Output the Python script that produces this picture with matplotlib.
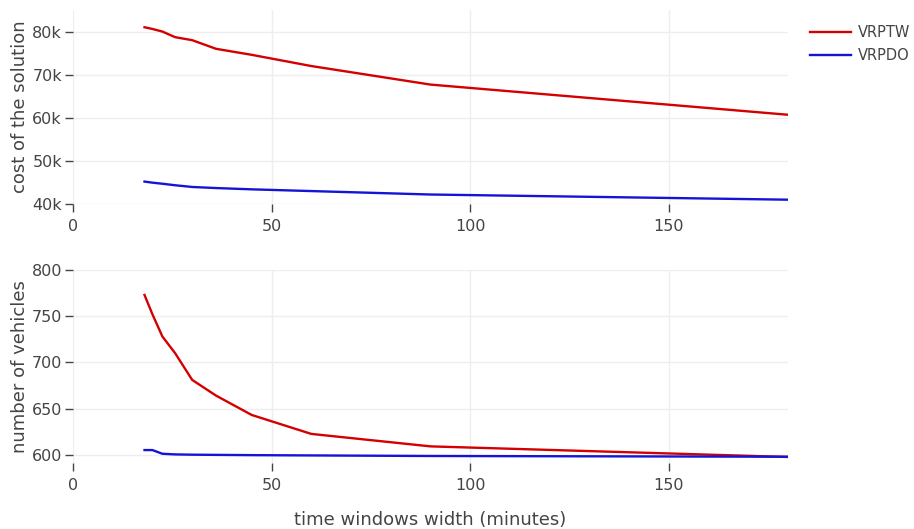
import matplotlib
matplotlib.use('Agg')
import matplotlib.pyplot as plt

# time window widths (180/n minutes, n = 10..1)
widths = [18, 20, 22.5, 25.7, 30, 36, 45, 60, 90, 180]

# cost of the solution
cost_vrptw = [81000, 80600, 80000, 78700, 78000, 76000, 74600, 72000, 67700, 60700]
cost_vrpdo = [45200, 44950, 44700, 44350, 43950, 43700, 43400, 43000, 42200, 41000]

# number of vehicles
veh_vrptw = [773, 752, 728, 710, 681, 664, 643, 622.5, 609, 597.5]
veh_vrpdo = [605, 605, 601, 600.3, 600, 599.8, 599.5, 599.2, 598.6, 597.8]

red = '#d40000'
blue = '#1414d8'
txt = '#444444'
grid = '#eeeeee'

plt.rcParams['font.family'] = ['DejaVu Sans']

fig = plt.figure(figsize=(9.14, 5.29), dpi=100)
W, H = 914, 529

def make_ax(top, bottom):
    ax = fig.add_axes([73/W, 1 - bottom/H, (788-73)/W, (bottom-top)/H])
    for s in ax.spines.values():
        s.set_visible(False)
    ax.grid(True, color=grid, linewidth=1)
    ax.set_axisbelow(True)
    ax.tick_params(axis='both', direction='out', length=6, width=1,
                   color=txt, labelcolor=txt, labelsize=11.5)
    ax.tick_params(axis='x', pad=5)
    ax.tick_params(axis='y', pad=2)
    ax.set_xlim(0, 180)
    ax.set_xticks([0, 50, 100, 150])
    return ax

ax1 = make_ax(10, 204)
l1, = ax1.plot(widths, cost_vrptw, color=red, lw=1.7, label='VRPTW')
l2, = ax1.plot(widths, cost_vrpdo, color=blue, lw=1.7, label='VRPDO')
ax1.set_ylim(40000, 85000)
ax1.set_yticks([40000, 50000, 60000, 70000, 80000])
ax1.set_yticklabels(['40k', '50k', '60k', '70k', '80k'])
ax1.set_ylabel('cost of the solution', fontsize=13, color=txt, labelpad=2)

ax2 = make_ax(270, 463)
ax2.plot(widths, veh_vrptw, color=red, lw=1.7)
ax2.plot(widths, veh_vrpdo, color=blue, lw=1.7)
ax2.set_ylim(591, 800)
ax2.set_yticks([600, 650, 700, 750, 800])
ax2.set_ylabel('number of vehicles', fontsize=13, color=txt, labelpad=2)
ax2.set_xlabel('time windows width (minutes)', fontsize=13, color=txt, labelpad=13)

fig.legend(handles=[l1, l2], loc='upper left', bbox_to_anchor=(797/W, 1 - 12/H),
           frameon=False, fontsize=10.5, handlelength=2.8, handletextpad=0.45,
           labelspacing=0.55, labelcolor=txt)

fig.savefig('out.png', dpi=100, facecolor='white')
